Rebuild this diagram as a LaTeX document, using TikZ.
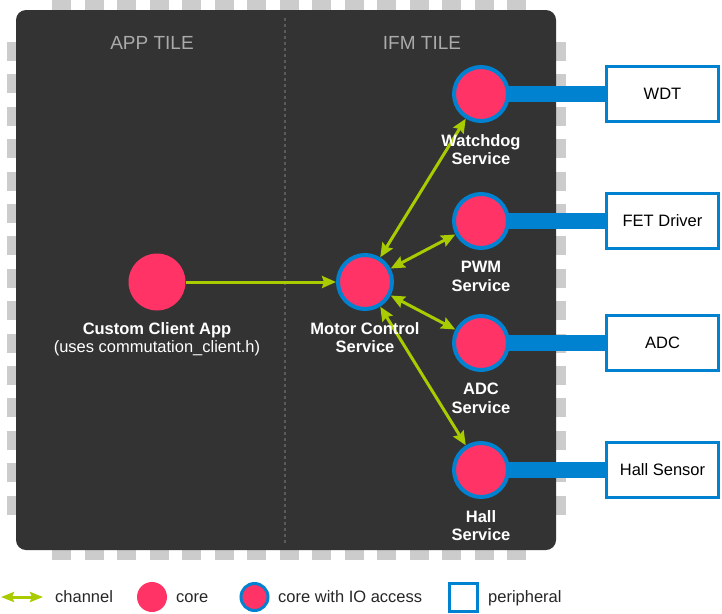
\documentclass[tikz,border=0pt]{standalone}
\usepackage{fontspec}
\setmainfont{Liberation Sans}
\usepackage{tikz}
\usetikzlibrary{arrows.meta, positioning}

\definecolor{chipgray}{HTML}{333333}
\definecolor{pingray}{HTML}{CCCCCC}
\definecolor{corepink}{HTML}{FF3366}
\definecolor{ioblue}{RGB}{0,130,208}
\definecolor{changreen}{RGB}{168,204,0}
\definecolor{tilegray}{HTML}{AAAAAA}
\definecolor{divgray}{HTML}{5A5A5A}

\begin{document}
\begin{tikzpicture}[x=1pt,y=-1pt,>={Stealth[length=14pt,width=12pt,inset=2pt]},
    font=\fontsize{16.5}{18.5}\selectfont]
    \tikzset{core/.style={circle, fill=corepink, minimum size=57pt, inner sep=0pt, outer sep=0pt},
      iocore/.style={core, draw=ioblue, line width=4pt, minimum size=54pt, outer sep=2pt},
      periph/.style={draw=ioblue, line width=3pt, fill=white, minimum width=112pt, minimum height=55pt, inner sep=0pt},
      corelabel/.style={text=white, font=\fontsize{16.5}{18.5}\selectfont\bfseries, align=center, inner sep=0pt},
      chan/.style={changreen, line width=3pt},
      iolink/.style={ioblue, line width=16pt},
      tile/.style={text=tilegray, font=\fontsize{19}{22}\selectfont, anchor=base, inner sep=0pt},
      legend/.style={text=black!85, anchor=base west, inner sep=0pt}}

    \useasboundingbox (0,0) rectangle (722,613);

    % pins round the chip
    \foreach \i in {0,...,14} {
      \fill[pingray] (52+32.5*\i,0) rectangle ++(19,10);
      \fill[pingray] (52+32.5*\i,550) rectangle ++(19,10);
      \fill[pingray] (7,42+32.4*\i) rectangle ++(9,19);
      \fill[pingray] (556,42+32.4*\i) rectangle ++(10,19);
    }

    % chip and tiles
    \fill[chipgray, rounded corners=10pt] (16,10) rectangle (556,550);
    \coordinate (divtop) at (285,18);
    \coordinate (divbot) at (285,543);
    \draw[divgray, line width=1.5pt, dash pattern=on 3pt off 3pt] (divtop) -- (divbot);
    \node[tile] (apptile) at (152,49) {APP TILE};
    \node[tile] (ifmtile) at (422,49) {IFM TILE};

    % cores
    \node[core] (client) at (157,282) {};
    \node[iocore] (motor) at (365,282) {};
    \node[iocore] (wdog) at (481,94) {};
    \node[iocore] (pwm) at (481,221) {};
    \node[iocore] (adc) at (481,343) {};
    \node[iocore] (hall) at (481,470) {};

    % peripherals
    \node[periph] (wdt) at (662.5,94) {WDT};
    \node[periph] (fet) at (662.5,221) {FET Driver};
    \node[periph] (adcdev) at (662.5,343) {ADC};
    \node[periph] (hallsens) at (662.5,470) {Hall Sensor};

    \draw[iolink, shorten <=-2pt] (wdog.east) -- (wdt.west);
    \draw[iolink, shorten <=-2pt] (pwm.east) -- (fet.west);
    \draw[iolink, shorten <=-2pt] (adc.east) -- (adcdev.west);
    \draw[iolink, shorten <=-2pt] (hall.east) -- (hallsens.west);

    % channels
    \draw[chan, ->] (client) -- (motor);
    \draw[chan, <->] (motor) -- (wdog);
    \draw[chan, <->] (motor) -- (pwm);
    \draw[chan, <->] (motor) -- (adc);
    \draw[chan, <->] (motor) -- (hall);

    % labels on top of the channels
    \node[corelabel, below=11.5pt of client] (clientlbl) {Custom Client App\\\mdseries (uses commutation\_client.h)};
    \node[corelabel, below=11pt of motor] (motorlbl) {Motor Control\\Service};
    \node[corelabel, below=11pt of wdog] (wdoglbl) {Watchdog\\Service};
    \node[corelabel, below=11pt of pwm] (pwmlbl) {PWM\\Service};
    \node[corelabel, below=11pt of adc] (adclbl) {ADC\\Service};
    \node[corelabel, below=11pt of hall] (halllbl) {Hall\\Service};

    % legend
    \coordinate (chanl) at (1,597);
    \coordinate (chanr) at (43,597);
    \draw[chan, {Stealth[length=13pt,width=10pt,inset=2pt]}-{Stealth[length=13pt,width=10pt,inset=2pt]}] (chanl) -- (chanr);
    \node[legend] (chantxt) at (55,602) {channel};
    \node[core, minimum size=30pt] (corekey) at (152,597) {};
    \node[legend] (coretxt) at (176,602) {core};
    \node[iocore, minimum size=27pt, line width=3pt, outer sep=0pt] (iokey) at (254.5,597) {};
    \node[legend] (iotxt) at (278,602) {core with IO access};
    \node[periph, minimum width=28pt, minimum height=28pt] (periphkey) at (463.5,597.5) {};
    \node[legend] (periphtxt) at (488,602) {peripheral};
\end{tikzpicture}
\end{document}
